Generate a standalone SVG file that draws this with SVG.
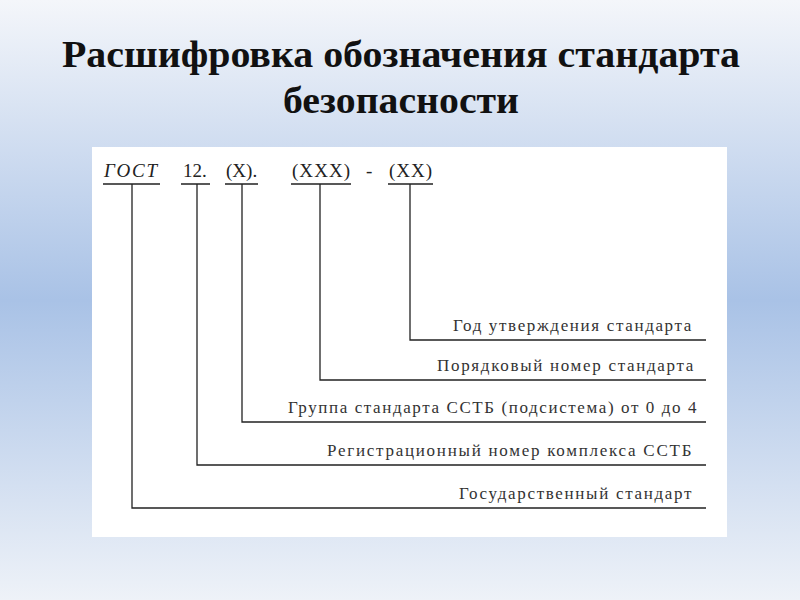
<svg xmlns="http://www.w3.org/2000/svg" width="800" height="600" viewBox="0 0 800 600">
<defs>
<linearGradient id="bg" x1="0" y1="0" x2="0" y2="1">
<stop offset="0" stop-color="#f4f6fa"/><stop offset="0.5" stop-color="#a9c2e6"/><stop offset="1" stop-color="#eef2f8"/>
</linearGradient>
<style>
.t{font-family:"Liberation Serif",serif;font-size:19px;fill:#222}
.l{font-family:"Liberation Serif",serif;font-size:17px;fill:#333;letter-spacing:0.6px}
.ln{stroke:#222;stroke-width:1.3;fill:none}
</style>
</defs>
<rect width="800" height="600" fill="url(#bg)"/>
<text x="62" y="67" textLength="678" lengthAdjust="spacingAndGlyphs" font-family="Liberation Serif,serif" font-weight="bold" font-size="38" fill="#111">Расшифровка обозначения стандарта</text>
<text x="283" y="113" textLength="236" lengthAdjust="spacingAndGlyphs" font-family="Liberation Serif,serif" font-weight="bold" font-size="38" fill="#111">безопасности</text>
<rect x="92" y="147" width="635" height="390" fill="#fff"/>
<g id="codes">
<text class="t" x="104" y="177" textLength="53" font-style="italic">ГОСТ</text>
<text class="t" x="183" y="177">12.</text>
<text class="t" x="226" y="177">(X).</text>
<text class="t" x="292" y="177" textLength="58">(XXX)</text>
<text class="t" x="366" y="177">-</text>
<text class="t" x="389" y="177" textLength="43">(XX)</text>
</g>
<g id="connectors" class="ln">
<path d="M103 184H160M181 184H210M225 184H258M291 184H351M388 184H433"/>
<path d="M410 184V340H706"/>
<path d="M320 184V380H706"/>
<path d="M242 184V422H706"/>
<path d="M197 184V465H706"/>
<path d="M132 184V508H706"/>
</g>
<g id="labels">
<text class="l" x="453" y="331" textLength="239">Год утверждения стандарта</text>
<text class="l" x="437" y="371" textLength="257">Порядковый номер стандарта</text>
<text class="l" x="288" y="413" textLength="409">Группа стандарта ССТБ (подсистема) от 0 до 4</text>
<text class="l" x="327" y="456" textLength="365">Регистрационный номер комплекса ССТБ</text>
<text class="l" x="459" y="499" textLength="233">Государственный стандарт</text>
</g>
</svg>
